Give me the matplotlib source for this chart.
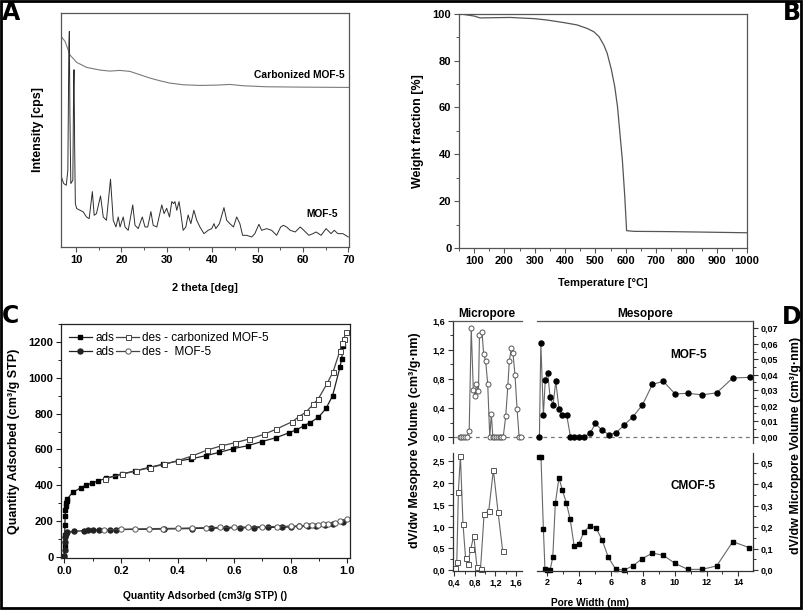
import matplotlib
matplotlib.use("Agg")
import matplotlib.pyplot as plt
from matplotlib.ticker import MultipleLocator, FuncFormatter
from matplotlib.patches import Rectangle

plt.rcParams['font.family'] = ['Liberation Sans', 'DejaVu Sans']
plt.rcParams['font.weight'] = 'bold'
plt.rcParams['axes.labelweight'] = 'bold'
plt.rcParams['axes.titleweight'] = 'bold'

# ---------------- Panel A: XRD ----------------
carb_2theta = [6.70, 7.58, 8.68, 10.15, 12.35, 15.29, 17.49, 19.69, 21.89, 24.10, 26.30,
               28.50, 30.70, 33.64, 37.31, 40.98, 43.92, 46.86, 52.00, 59.34, 70.2]
carb_int = [631, 616, 575, 553, 538, 530, 527, 529, 526, 516, 506,
            498, 491, 486, 484, 485, 487, 483, 480, 479, 478]

mof_2theta = [6.72, 6.8, 7.0, 7.3, 7.85, 8.2, 8.42, 8.53, 8.65, 8.85,
              9.3, 9.47, 9.56, 9.7, 9.85, 10.15, 10.9, 11.6, 12.3, 12.9,
              13.6, 14.0, 14.5, 15.4, 16.0, 16.7, 17.6, 18.2, 18.8, 19.3,
              19.7, 20.4, 20.8, 21.5, 22.5, 23.0, 23.7, 24.6, 25.2, 25.8,
              26.5, 27.0, 27.8, 28.9, 29.4, 29.97, 30.6, 31.1, 31.5, 31.8,
              32.2, 32.7, 33.1, 33.6, 34.2, 34.7, 35.3, 35.97, 36.6, 37.3,
              38.2, 39.1, 39.9, 40.4, 40.8, 41.6, 42.6, 43.2, 43.9, 44.7,
              45.4, 46.1, 46.7, 47.6, 48.7, 49.4, 50.3, 50.9, 52.0, 53.1,
              54.2, 55.1, 55.7, 56.4, 57.2, 58.3, 59.4, 60.2, 61.3, 62.2,
              62.9, 64.0, 65.1, 66.2, 66.9, 67.7, 68.8, 70.0]
mof_int = [286, 210, 200, 190, 185, 230, 600, 646, 400, 190,
           200, 480, 531, 300, 130, 115, 110, 105, 90, 85,
           166, 95, 100, 153, 90, 80, 203, 80, 60, 90,
           60, 90, 60, 50, 126, 65, 55, 90, 60, 60,
           106, 65, 60, 126, 100, 116, 90, 136, 130, 136,
           110, 136, 100, 50, 60, 96, 70, 110, 80, 60,
           40, 50, 55, 70, 55, 70, 118, 80, 70, 60,
           90, 70, 35, 35, 30, 40, 68, 50, 55, 50,
           35, 60, 65, 60, 50, 45, 60, 50, 35, 40,
           45, 35, 55, 40, 50, 40, 40, 30]

# ---------------- Panel B: TGA ----------------
tga_T = [50, 100, 120, 219, 297, 341, 396, 440, 473, 495, 512, 528, 539, 553, 564,
         573, 581, 589, 597, 603, 628, 738, 849, 1000]
tga_W = [100, 99, 98.2, 98.4, 97.9, 97.3, 96.2, 95.2, 93.7, 92.3, 90.2, 86.6, 83.1,
         76, 68.8, 60.3, 48.9, 37.6, 21.9, 7.4, 7.1, 7.0, 6.8, 6.5]

# ---------------- Panel C: isotherms ----------------
cads_x = [0.0005, 0.001, 0.0015, 0.002, 0.003, 0.004, 0.005, 0.006, 0.008, 0.01,
          0.029, 0.059, 0.077, 0.099, 0.12, 0.146, 0.179, 0.203, 0.25, 0.30, 0.35,
          0.40, 0.446, 0.499, 0.548, 0.597, 0.648, 0.697, 0.748, 0.795, 0.819,
          0.847, 0.868, 0.898, 0.925, 0.948, 0.974, 0.98, 0.986]
cads_y = [5, 60, 120, 180, 230, 260, 285, 300, 312, 322,
          360, 386, 401, 412, 425, 438, 453, 463, 480, 500, 518,
          535, 547, 565, 584, 605, 621, 644, 666, 694, 709,
          733, 750, 780, 830, 901, 1060, 1107, 1181]
cdes_x = [0.994, 0.988, 0.98, 0.974, 0.95, 0.929, 0.898, 0.88, 0.853, 0.829, 0.806,
          0.748, 0.706, 0.654, 0.604, 0.554, 0.505, 0.452, 0.40, 0.352, 0.303,
          0.252, 0.203, 0.144]
cdes_y = [1256, 1217, 1194, 1153, 1036, 970, 885, 853, 808, 784, 756,
          713, 685, 659, 638, 620, 597, 564, 537, 517, 498,
          480, 461, 437]
mads_x = [0.0005, 0.001, 0.002, 0.003, 0.005, 0.008, 0.034, 0.071, 0.082, 0.10,
          0.122, 0.161, 0.181, 0.352, 0.452, 0.518, 0.571, 0.62, 0.67, 0.72,
          0.77, 0.80, 0.83, 0.86, 0.89, 0.92, 0.95, 0.986]
mads_y = [5, 40, 80, 110, 128, 136, 142, 146, 147, 148,
          149, 151, 152, 155, 158, 160, 161, 162, 163, 164,
          165, 167, 170, 171, 172, 175, 183, 196]
mdes_x = [0.998, 0.974, 0.955, 0.933, 0.915, 0.895, 0.875, 0.855, 0.83, 0.80,
          0.75, 0.70, 0.65, 0.60, 0.55, 0.50, 0.45, 0.40, 0.35, 0.30, 0.25,
          0.20, 0.14]
mdes_y = [211, 198, 190, 185, 182, 180, 177, 175, 172, 171,
          169, 168, 166, 165, 164, 163, 161, 159, 158, 157, 155,
          153, 151]

# ---------------- Panel D: pore size distributions ----------------
mof_micro_w = [0.51, 0.54, 0.57, 0.61, 0.64, 0.69, 0.73, 0.77, 0.81, 0.83,
               0.87, 0.89, 0.94, 0.97, 1.01, 1.05, 1.09, 1.12, 1.15, 1.18,
               1.22, 1.25, 1.28, 1.31, 1.35, 1.40, 1.44, 1.47, 1.51, 1.54,
               1.58, 1.62, 1.66, 1.70]
mof_micro_v = [0, 0, 0, 0, 0, 0.08, 1.50, 0.65, 0.57, 0.73,
               0.63, 1.41, 1.44, 1.15, 1.05, 0.73, 0, 0.32, 0, 0,
               0, 0, 0, 0, 0, 0.29, 0.70, 1.05, 1.23, 1.16,
               0.85, 0.39, 0, 0]
mof_meso_w = [1.50, 1.59, 1.75, 1.87, 2.02, 2.17, 2.36, 2.53, 2.73, 2.92,
              3.22, 3.45, 3.70, 4.01, 4.32, 4.68, 5.02, 5.44, 5.89, 6.32,
              6.84, 7.36, 7.97, 8.60, 9.29, 10.02, 10.82, 11.72, 12.64, 13.65, 14.73]
mof_meso_v = [0, 0.0604, 0.0139, 0.0368, 0.0411, 0.0257, 0.0206, 0.0357, 0.018, 0.0137,
              0.0137, 0, 0, 0, 0, 0.0021, 0.0085, 0.004, 0.0013, 0.0026,
              0.0076, 0.0127, 0.0204, 0.0338, 0.0357, 0.0276, 0.028, 0.027, 0.0283,
              0.0379, 0.0383]
cmof_micro_w = [0.41, 0.45, 0.48, 0.52, 0.57, 0.62, 0.66, 0.72, 0.78, 0.84,
                0.91, 0.98, 1.07, 1.16, 1.25, 1.34]
cmof_micro_v = [0.04, 0.19, 1.80, 2.62, 1.06, 0.27, 0.14, 0.48, 0.79, 0.08,
                0.02, 1.29, 1.36, 2.30, 1.34, 0.44]
cmof_meso_w = [1.48, 1.60, 1.75, 1.85, 2.0, 2.17, 2.34, 2.50, 2.73, 2.94,
               3.19, 3.43, 3.68, 3.97, 4.30, 4.68, 5.06, 5.44, 5.83, 6.30,
               6.84, 7.36, 7.97, 8.60, 9.29, 10.02, 10.82, 11.72, 12.64, 13.65, 14.69]
cmof_meso_v = [0.525, 0.525, 0.191, 0.003, 0, 0, 0.059, 0.31, 0.43, 0.373,
               0.313, 0.239, 0.113, 0.121, 0.178, 0.206, 0.196, 0.14, 0.059, 0.003,
               0, 0.019, 0.053, 0.079, 0.068, 0.031, 0.003, 0.003, 0.019, 0.132, 0.104]

W, H = 805, 610
fig = plt.figure(figsize=(W / 100, H / 100), dpi=100)


def rect(l, t, r, b):
    return [l / W, 1 - b / H, (r - l) / W, (b - t) / H]


SP = '#3a3a3a'
TICK_FS = 8
LAB_FS = 9


def style(ax, color=SP, lw=0.9):
    for s in ax.spines.values():
        s.set_color(color)
        s.set_linewidth(lw)
    ax.tick_params(which='major', direction='out', length=3.5, width=0.8,
                   color=color, labelsize=TICK_FS, pad=2)
    ax.tick_params(which='minor', direction='out', length=2, width=0.7, color=color)


def comma(dec):
    return FuncFormatter(lambda v, p: f"{v:.{dec}f}".replace('.', ','))


# ---- A ----
axA = fig.add_axes(rect(61, 13, 349, 247))
axA.plot(carb_2theta, carb_int, color='#7a7a7a', lw=0.8)
axA.plot(mof_2theta, mof_int, color='#2e2e2e', lw=0.7)
axA.set_xlim(6.69, 70.15)
axA.set_ylim(0, 701)
axA.set_yticks([])
axA.xaxis.set_major_locator(MultipleLocator(10))
axA.xaxis.set_minor_locator(MultipleLocator(5))
style(axA, '#555555')
axA.set_xlabel('2 theta [deg]', fontsize=7.9, labelpad=13)
axA.set_ylabel('Intensity [cps]', fontsize=LAB_FS, labelpad=12)
axA.text(0.985, 0.735, 'Carbonized MOF-5', transform=axA.transAxes, ha='right',
         va='center', fontsize=7.4)
axA.text(0.96, 0.14, 'MOF-5', transform=axA.transAxes, ha='right', va='center',
         fontsize=7.4)

# ---- B ----
axB = fig.add_axes(rect(458.9, 13.7, 747, 248))
axB.plot(tga_T, tga_W, color='#555555', lw=0.9)
axB.set_xlim(50, 1000)
axB.set_ylim(0, 100)
axB.xaxis.set_major_locator(MultipleLocator(100))
axB.xaxis.set_minor_locator(MultipleLocator(50))
axB.yaxis.set_major_locator(MultipleLocator(20))
axB.yaxis.set_minor_locator(MultipleLocator(10))
style(axB, '#555555')
axB.set_xlabel('Temperature [°C]', fontsize=8.0, labelpad=9)
axB.set_ylabel('Weight fraction [%]', fontsize=LAB_FS, labelpad=6)

# ---- C ----
axC = fig.add_axes(rect(61, 324, 350, 558))
l1, = axC.plot(cads_x, cads_y, color='#222222', lw=0.9, marker='s', ms=3.3,
               mfc='black', mec='black', label='ads')
l2, = axC.plot(mads_x, mads_y, color='#222222', lw=0.9, marker='o', ms=3.6,
               mfc='#222222', mec='#222222', label='ads')
l3, = axC.plot(cdes_x, cdes_y, color='#444444', lw=0.9, marker='s', ms=3.6,
               mfc='white', mec='#444444', mew=0.7, label='des - carbonized MOF-5')
l4, = axC.plot(mdes_x, mdes_y, color='#444444', lw=0.9, marker='o', ms=3.8,
               mfc='white', mec='#555555', mew=0.7, label='des -  MOF-5')
axC.set_xlim(-0.0117, 1.0095)
axC.set_ylim(-7, 1302)
axC.xaxis.set_major_locator(MultipleLocator(0.2))
axC.xaxis.set_minor_locator(MultipleLocator(0.1))
axC.yaxis.set_major_locator(MultipleLocator(200))
axC.yaxis.set_minor_locator(MultipleLocator(100))
axC.xaxis.set_major_formatter(FuncFormatter(lambda v, p: f"{v:.1f}"))
style(axC, '#222222')
axC.set_xlabel('Quantity Adsorbed (cm3/g STP) ()', fontsize=7.4, labelpad=11)
axC.set_ylabel('Quantity Adsorbed (cm³/g STP)', fontsize=LAB_FS, labelpad=6)
axC.legend(handles=[l1, l2, l3, l4], loc='upper left', ncol=2, frameon=False,
           bbox_to_anchor=(0.0, 1.0), handlelength=1.9, handletextpad=0.3,
           columnspacing=0.2, labelspacing=0.15, borderaxespad=0.3,
           prop={'weight': 'normal', 'size': 8.5})

# ---- D ----
GRAY = '#666666'
axD1 = fig.add_axes(rect(452.7, 320.7, 521.7, 443.3))
axD2 = fig.add_axes(rect(536.7, 320.7, 753.3, 443.3))
axD3 = fig.add_axes(rect(452.7, 452.7, 521.7, 570.7))
axD4 = fig.add_axes(rect(536.7, 452.7, 753.3, 570.7))

for ax in (axD1, axD2, axD3, axD4):
    ax.patch.set_alpha(0)
    style(ax, '#333333')
    ax.tick_params(labelsize=6.5)

axD1.plot(mof_micro_w, mof_micro_v, color=GRAY, lw=0.8, marker='o', ms=3.6,
          mfc='white', mec='#555555', mew=0.7, clip_on=False)
axD1.set_xlim(0.37, 1.71)
axD1.set_ylim(-0.082, 1.6)
axD1.yaxis.set_major_locator(MultipleLocator(0.4))
axD1.yaxis.set_minor_locator(MultipleLocator(0.2))
axD1.yaxis.set_major_formatter(comma(1))
axD1.set_xticks([])
for s in ('right', 'bottom'):
    axD1.spines[s].set_visible(False)
axD1.spines['top'].set_color('#555555')
axD1.axhline(0, xmin=0, xmax=(753.3 - 452.7) / (521.7 - 452.7), color='#777777',
             lw=0.9, ls=(0, (3, 3)), clip_on=False, zorder=0)
axD1.set_title('Micropore', fontsize=8.5, pad=3)

axD2.plot(mof_meso_w, mof_meso_v, color=GRAY, lw=0.8, marker='o', ms=3.6,
          mfc='black', mec='black', clip_on=False)
axD2.set_xlim(1.33, 14.94)
axD2.set_ylim(-0.0043, 0.0749)
axD2.yaxis.tick_right()
axD2.yaxis.set_major_locator(MultipleLocator(0.01))
axD2.yaxis.set_minor_locator(MultipleLocator(0.005))
axD2.yaxis.set_major_formatter(comma(2))
axD2.set_xticks([])
for s in ('left', 'bottom'):
    axD2.spines[s].set_visible(False)
axD2.spines['top'].set_color('#555555')
axD2.set_title('Mesopore', fontsize=8.5, pad=3)
axD2.text(0.70, 0.72, 'MOF-5', transform=axD2.transAxes, ha='center', va='center',
          fontsize=8.5)

axD3.plot(cmof_micro_w, cmof_micro_v, color=GRAY, lw=0.8, marker='s', ms=3.6,
          mfc='white', mec='#555555', mew=0.7, clip_on=False)
axD3.set_xlim(0.37, 1.71)
axD3.set_ylim(-0.016, 2.698)
axD3.xaxis.set_major_locator(MultipleLocator(0.4))
axD3.xaxis.set_minor_locator(MultipleLocator(0.2))
axD3.xaxis.set_major_formatter(comma(1))
axD3.yaxis.set_major_locator(MultipleLocator(0.5))
axD3.yaxis.set_minor_locator(MultipleLocator(0.25))
axD3.yaxis.set_major_formatter(comma(1))
for s in ('right', 'top'):
    axD3.spines[s].set_visible(False)

axD4.plot(cmof_meso_w, cmof_meso_v, color=GRAY, lw=0.8, marker='s', ms=3.4,
          mfc='black', mec='black', clip_on=False)
axD4.set_xlim(1.33, 14.94)
axD4.set_ylim(-0.0033, 0.5466)
axD4.yaxis.tick_right()
axD4.xaxis.set_major_locator(MultipleLocator(2))
axD4.xaxis.set_minor_locator(MultipleLocator(1))
axD4.yaxis.set_major_locator(MultipleLocator(0.1))
axD4.yaxis.set_minor_locator(MultipleLocator(0.05))
axD4.yaxis.set_major_formatter(comma(1))
for s in ('left', 'top'):
    axD4.spines[s].set_visible(False)
axD4.text(0.72, 0.72, 'CMOF-5', transform=axD4.transAxes, ha='center', va='center',
          fontsize=8.5)

fig.text(590 / W, 1 - 603 / H, 'Pore Width (nm)', ha='center', va='center',
         fontsize=7.3)
fig.text(415 / W, 1 - 440 / H, 'dV/dw Mesopore Volume (cm³/g·nm)', rotation=90,
         ha='center', va='center', fontsize=LAB_FS)
fig.text(796 / W, 1 - 445 / H, 'dV/dw Micropore Volume (cm³/g·nm)', rotation=90,
         ha='center', va='center', fontsize=LAB_FS)

# panel letters
LET = dict(fontsize=17, fontweight='heavy', family='DejaVu Sans', va='top')
fig.text(2 / W, 1 - 1 / H, 'A', ha='left', **LET)
fig.text(801 / W, 1 - 1 / H, 'B', ha='right', **LET)
fig.text(2 / W, 1 - 304 / H, 'C', ha='left', **LET)
fig.text(801 / W, 1 - 305 / H, 'D', ha='right', **LET)

# figure frame
fig.patches.append(Rectangle((0.0015, 0.003), 0.9935, 0.995, transform=fig.transFigure,
                             fill=False, edgecolor='black', lw=2.0))

fig.savefig('out.png', dpi=100)
